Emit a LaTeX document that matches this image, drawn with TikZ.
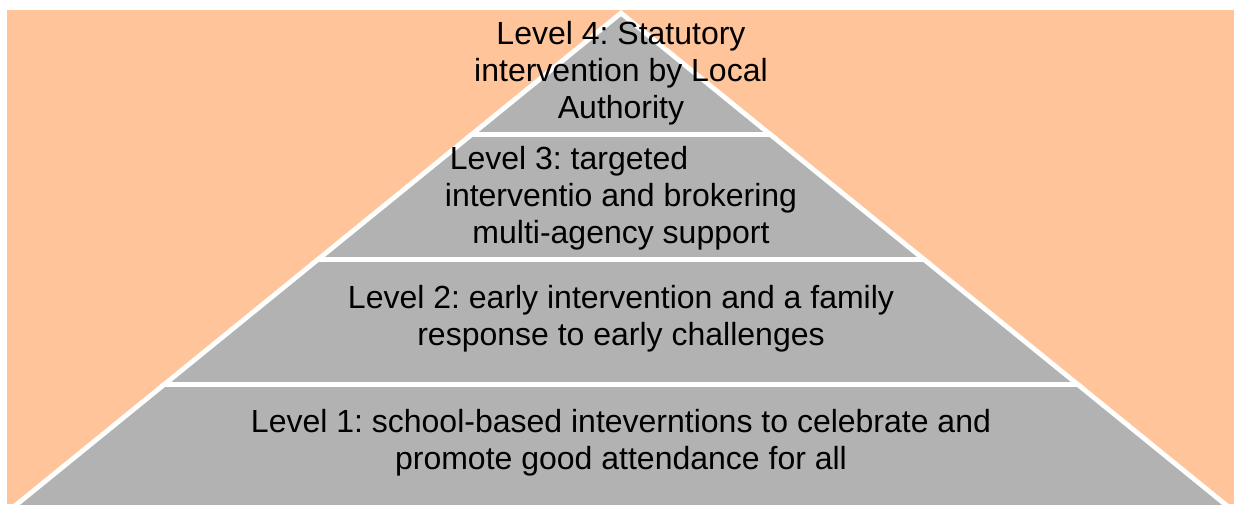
\documentclass[tikz,border=0pt]{standalone}
\usepackage{fontspec}
\setmainfont{Liberation Sans}
\definecolor{peach}{RGB}{255,196,153}
\definecolor{pgray}{RGB}{178,178,178}
\begin{document}
\frenchspacing
\begin{tikzpicture}[x=1pt,y=-1pt,
  lvl/.style={align=center, font=\fontsize{32}{36.8}\selectfont\frenchspacing, inner sep=0pt, text=black},
  sep/.style={white, line width=5pt}]
\useasboundingbox (0,0) rectangle (1234,504);
\begin{scope}
  \clip (7,10) rectangle (1234,504);
  \fill[peach] (7,10) rectangle (1234,504);
  \fill[white] (621,10) -- (-18.6,530) -- (1260.6,530) -- cycle;
  \fill[pgray] (621,16.4) -- (-10.7,530) -- (1252.7,530) -- cycle;
  \clip (621,10) -- (-18.6,530) -- (1260.6,530) -- cycle;
  \foreach \y in {134.5,259.5,384.5} \draw[sep] (0,\y) -- (1234,\y);
\end{scope}
\node[lvl] (l4) at (621,73) {Level 4: Statutory\\intervention by Local\\Authority};
\node[lvl] (l3) at (621,198) {Level 3: targeted\rule{104pt}{0pt}\\interventio and brokering\\multi-agency support};
\node[lvl] (l2) at (621,319) {Level 2: early intervention and a family\\response to early challenges};
\node[lvl] (l1) at (621,443) {Level 1: school-based inteverntions to celebrate and\\promote good attendance for all};
\end{tikzpicture}
\end{document}
